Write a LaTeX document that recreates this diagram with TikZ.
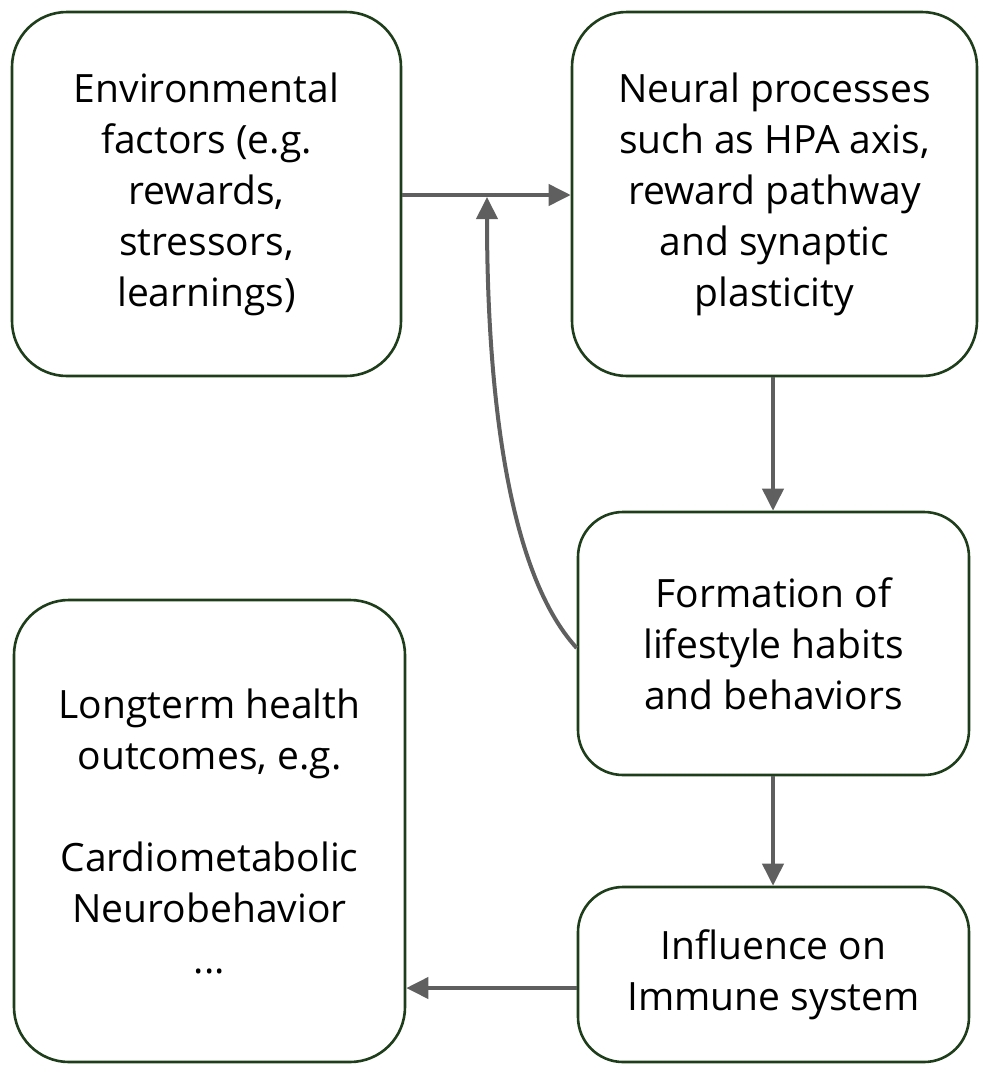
\documentclass[tikz,border=0pt]{standalone}
\usepackage{fontspec}
\setmainfont{Open Sans}
\usetikzlibrary{arrows.meta}
\definecolor{boxgreen}{HTML}{1E3D1A}
\definecolor{arrowgray}{HTML}{5F5F5F}
\tikzset{
  box/.style={draw=boxgreen, line width=2.6pt, rounded corners=#1, align=center,
    font=\fontsize{39}{51}\selectfont, inner sep=0pt},
  box/.default=55pt,
  conn/.style={draw=arrowgray, line width=4pt, -{Triangle[length=22pt,width=21pt]}}
}
\begin{document}
\begin{tikzpicture}[x=1pt,y=-1pt]
\useasboundingbox (0,0) rectangle (988,1074);
\node[box, minimum width=389pt, minimum height=364pt] (env) at (206.5,194)
  {Environmental\\factors (e.g.\\rewards,\\stressors,\\learnings)};
\node[box, minimum width=405pt, minimum height=364pt] (neu) at (774.5,194)
  {Neural processes\\such as HPA axis,\\reward pathway\\and synaptic\\plasticity};
\node[box=45pt, minimum width=391pt, minimum height=263pt] (form) at (773.5,643.5)
  {Formation of\\lifestyle habits\\and behaviors};
\node[box, minimum width=391pt, minimum height=462pt] (long) at (209.5,831)
  {Longterm health\\outcomes, e.g.\\\\Cardiometabolic\\Neurobehavior\\...};
\node[box=45pt, minimum width=391pt, minimum height=175pt] (infl) at (773.5,974.5)
  {Influence on\\Immune system};
\coordinate (top) at (487,197);
\draw[conn] (env.east |- 0,195) -- (neu.west |- 0,195);
\draw[conn] (form.west |- 0,648) .. controls (505,570) and (487,380) .. (top);
\draw[conn] (neu.south -| 773,0) -- (form.north -| 773,0);
\draw[conn] (form.south -| 773,0) -- (infl.north -| 773,0);
\draw[conn] (infl.west |- 0,988) -- (long.east |- 0,988);
\end{tikzpicture}
\end{document}
